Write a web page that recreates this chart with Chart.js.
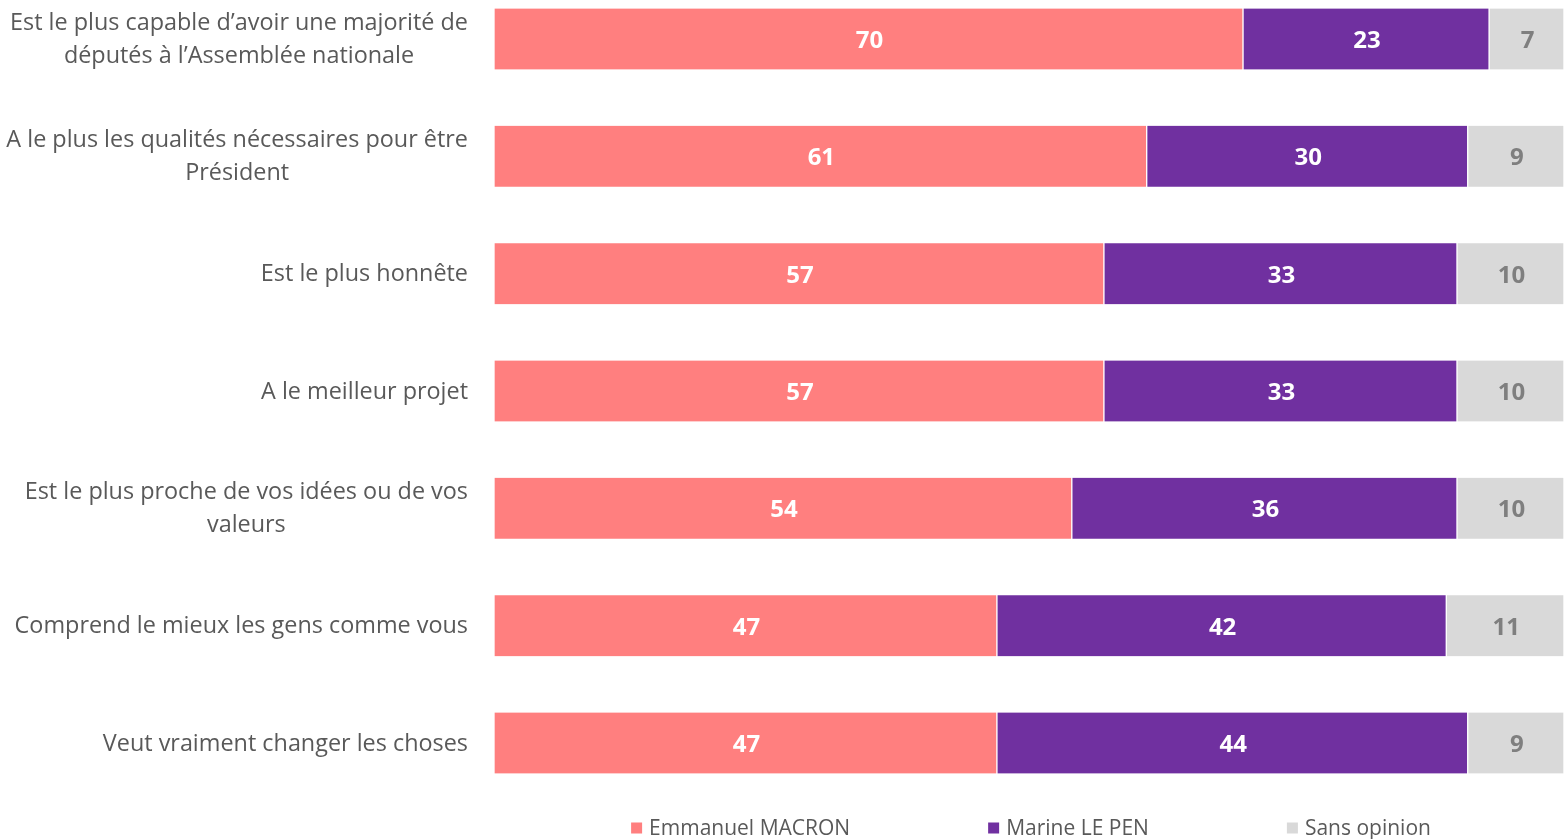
<!DOCTYPE html>
<html>
<head>
<meta charset="utf-8">
<script src="https://cdn.jsdelivr.net/npm/chart.js@4"></script>
<style>
  html, body { margin: 0; padding: 0; background: #fff; }
  #wrap { width: 1564px; height: 839px; position: relative; }
</style>
</head>
<body>
<div id="wrap"><canvas id="barChart"></canvas></div>
<script>
var categories = [
  ['Est le plus capable d\u2019avoir une majorité de', 'députés à l\u2019Assemblée nationale'],
  ['A le plus les qualités nécessaires pour être', 'Président'],
  ['Est le plus honnête'],
  ['A le meilleur projet'],
  ['Est le plus proche de vos idées ou de vos', 'valeurs'],
  ['Comprend le mieux les gens comme vous'],
  ['Veut vraiment changer les choses']
];
var seriesNames = ['Emmanuel MACRON', 'Marine LE PEN', 'Sans opinion'];
var macron = [70, 61, 57, 57, 54, 47, 47];
var lePen = [23, 30, 33, 33, 36, 42, 44];
var sansOpinion = [7, 9, 10, 10, 10, 11, 9];

var colors = ['#FF7F7F', '#7030A0', '#D9D9D9'];
var valueColors = ['#FFFFFF', '#FFFFFF', '#7F7F7F'];
var fontFamily = '"Open Sans", sans-serif';

// category labels: block right aligned, lines centred inside the block
var categoryLabels = {
  id: 'categoryLabels',
  afterDraw: function(chart) {
    var ctx = chart.ctx;
    var yScale = chart.scales.y;
    var right = chart.chartArea.left - 26;
    var lineHeight = 33;
    ctx.save();
    ctx.font = '23.4px ' + fontFamily;
    ctx.fillStyle = '#595959';
    ctx.textAlign = 'center';
    ctx.textBaseline = 'middle';
    categories.forEach(function(lines, i) {
      var y = yScale.getPixelForValue(i) + 1;
      var blockWidth = 0;
      lines.forEach(function(line) {
        blockWidth = Math.max(blockWidth, ctx.measureText(line).width);
      });
      lines.forEach(function(line, j) {
        ctx.fillText(line, right - blockWidth / 2, y + (j - (lines.length - 1) / 2) * lineHeight);
      });
    });
    ctx.restore();
  }
};

var barValues = {
  id: 'barValues',
  afterDatasetsDraw: function(chart) {
    var ctx = chart.ctx;
    ctx.save();
    ctx.font = 'bold 24px ' + fontFamily;
    ctx.textAlign = 'center';
    ctx.textBaseline = 'middle';
    chart.data.datasets.forEach(function(ds, d) {
      ctx.fillStyle = valueColors[d];
      chart.getDatasetMeta(d).data.forEach(function(bar, i) {
        var p = bar.getCenterPoint();
        ctx.fillText(ds.data[i], p.x + 1, p.y + 2);
      });
    });
    ctx.restore();
  }
};

var bottomLegend = {
  id: 'bottomLegend',
  afterDraw: function(chart) {
    var ctx = chart.ctx;
    var box = 11, gap = 7, spacing = 138;
    var y = 828;
    ctx.save();
    ctx.font = '21px ' + fontFamily;
    ctx.textBaseline = 'middle';
    ctx.textAlign = 'left';
    var widths = chart.data.datasets.map(function(ds) {
      return box + gap + ctx.measureText(ds.label).width;
    });
    var total = widths.reduce(function(a, b) { return a + b; }, 0) + spacing * (widths.length - 1);
    var x = (chart.chartArea.left + chart.chartArea.right) / 2 - total / 2 + 2;
    chart.data.datasets.forEach(function(ds, d) {
      ctx.fillStyle = ds.backgroundColor;
      ctx.fillRect(x, y - box / 2, box, box);
      ctx.fillStyle = '#595959';
      ctx.fillText(ds.label, x + box + gap, y + 1);
      x += widths[d] + spacing;
    });
    ctx.restore();
  }
};

function makeDataset(i, values) {
  return {
    label: seriesNames[i],
    data: values,
    backgroundColor: colors[i],
    borderColor: '#FFFFFF',
    borderWidth: {left: 1, right: 1, top: 0, bottom: 0},
    borderSkipped: false,
    barThickness: 61,
    clip: false
  };
}

var ctx = document.getElementById('barChart').getContext('2d');
var chart = new Chart(ctx, {
  type: 'bar',
  data: {
    labels: categories.map(function(c) { return c.join(' '); }),
    datasets: [
      makeDataset(0, macron),
      makeDataset(1, lePen),
      makeDataset(2, sansOpinion)
    ]
  },
  options: {
    indexAxis: 'y',
    responsive: true,
    maintainAspectRatio: false,
    animation: false,
    layout: {
      padding: {left: 494, right: 0, top: 39, bottom: 96}
    },
    scales: {
      x: {
        stacked: true,
        min: 0,
        max: 100,
        display: false
      },
      y: {
        stacked: true,
        offset: false,
        display: false
      }
    },
    plugins: {
      legend: {display: false},
      tooltip: {enabled: false}
    }
  },
  plugins: [categoryLabels, barValues, bottomLegend]
});
</script>
</body>
</html>
